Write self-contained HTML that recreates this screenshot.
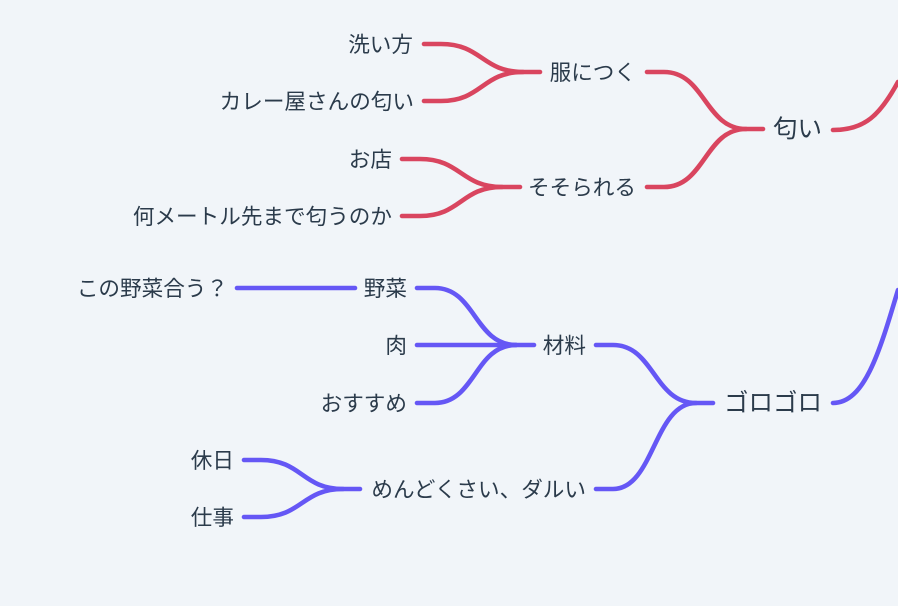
<!DOCTYPE html>
<html lang="ja">
<head>
<meta charset="utf-8">
<style>
html,body{margin:0;padding:0;width:898px;height:606px;overflow:hidden;background:#f1f5f9}
svg{display:block}
text{font-family:"Liberation Sans","Noto Sans CJK JP",sans-serif;font-size:21.6px;fill:#2b3b4b}
.e{text-anchor:end}
.r{font-size:24.5px}
path{fill:none;stroke-width:4.6;stroke-linecap:round;stroke-linejoin:round}
.red path{stroke:#d9455f}
.pur path{stroke:#6557f5}
</style>
</head>
<body>
<svg width="898" height="606" viewBox="0 0 898 606" xmlns="http://www.w3.org/2000/svg">
<g class="red">
<path d="M424,44L441,44C482,44 482,72 523,72L540,72"/>
<path d="M424,101L441,101C482,101 482,72 523,72"/>
<path d="M402,159L420,159C461,159 461,187 502,187L520,187"/>
<path d="M402,216L420,216C461,216 461,187 502,187"/>
<path d="M647,72L664,72C705,72 705,129 746,129L763,129"/>
<path d="M647,187L664,187C705,187 705,129 746,129"/>
<path d="M833,130C865,130 880,115 898,82"/>
</g>
<g class="pur">
<path d="M237,288L355,288"/>
<path d="M417,288L435,288C475,288 475,345 516,345L534,345"/>
<path d="M417,345L516,345"/>
<path d="M417,403L435,403C475,403 475,345 516,345"/>
<path d="M596,345L613,345C654,345 654,403 696,403L713,403"/>
<path d="M596,489L613,489C654,489 654,403 696,403"/>
<path d="M244,460L261,460C302,460 302,489 343,489L360,489"/>
<path d="M244,517L261,517C302,517 302,489 343,489"/>
<path d="M833,403C865,403 880,350 898,290"/>
</g>
<g class="e">
<text x="413" y="52">洗い方</text>
<text x="414" y="109">カレー屋さんの匂い</text>
<text x="392" y="167">お店</text>
<text x="392" y="224">何メートル先まで匂うのか</text>
<text x="636" y="80">服につく</text>
<text x="636" y="195">そそられる</text>
<text class="r" x="822" y="137">匂い</text>
<text x="228" y="296">この野菜合う？</text>
<text x="407" y="296">野菜</text>
<text x="407" y="353">肉</text>
<text x="407" y="411">おすすめ</text>
<text x="586" y="353">材料</text>
<text x="586" y="497">めんどくさい、ダルい</text>
<text x="234" y="468">休日</text>
<text x="234" y="525">仕事</text>
<text class="r" x="822" y="411">ゴロゴロ</text>
</g>
</svg>
</body>
</html>
